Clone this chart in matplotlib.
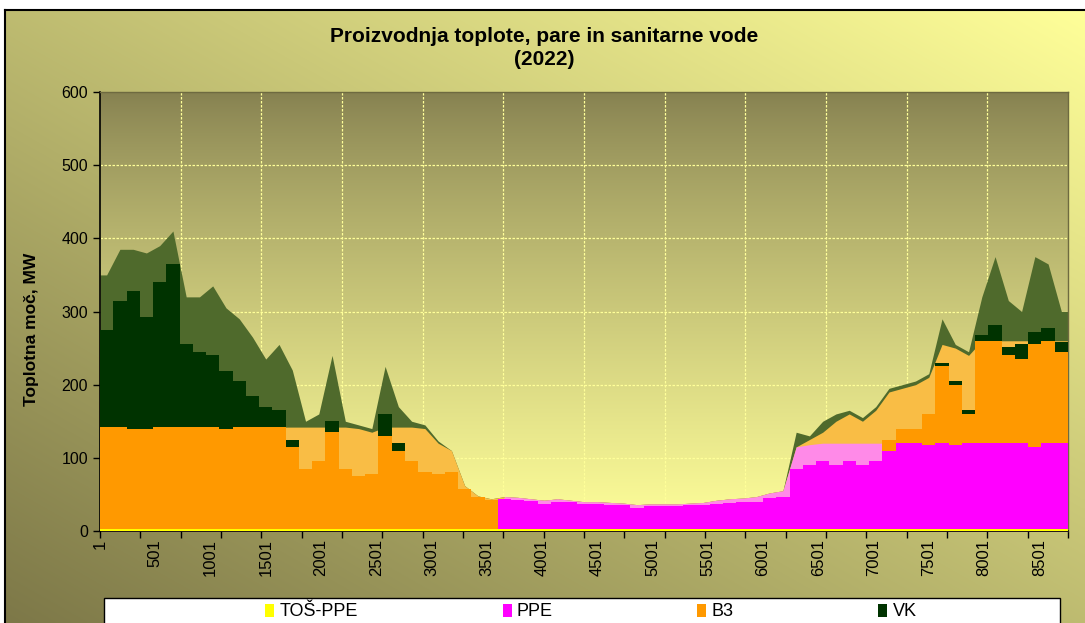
import numpy as np
import matplotlib
matplotlib.use("Agg")
import matplotlib.pyplot as plt
from matplotlib.patches import Patch, Rectangle
from matplotlib.colors import to_rgb

plt.rcParams['font.family'] = ['Liberation Sans', 'DejaVu Sans']

# ---------------- data (MW, 120-hour bins) ----------------
BIN_HOURS = 120
TOS_PPE = [3, 3, 3, 3, 3, 3, 3, 3, 3, 3, 3, 3, 3, 3, 3, 3, 3, 3, 3, 3,
           3, 3, 3, 3, 3, 3, 3, 3, 3, 3, 3, 3, 3, 3, 3, 3, 3, 3, 3, 3,
           3, 3, 3, 3, 3, 3, 3, 3, 3, 3, 3, 3, 3, 3, 3, 3, 3, 3, 3, 3,
           3, 3, 3, 3, 3, 3, 3, 3, 3, 3, 3, 3, 3]
PPE = [0, 0, 0, 0, 0, 0, 0, 0, 0, 0, 0, 0, 0, 0, 0, 0, 0, 0, 0, 0,
       0, 0, 0, 0, 0, 0, 0, 0, 0, 0,
       41, 39, 38, 34, 37, 36, 34, 34, 33, 32, 29, 31, 31, 31, 32, 32, 34, 35, 36, 37,
       42, 44, 82, 87, 92, 87, 92, 87, 92, 107, 117, 117, 115, 117, 114, 117, 117, 117, 117, 117,
       112, 117, 117]
PPE_MAX = [0, 0, 0, 0, 0, 0, 0, 0, 0, 0, 0, 0, 0, 0, 0, 0, 0, 0, 0, 0,
           0, 0, 0, 0, 0, 0, 0, 0, 0, 0,
           44, 43, 41, 39, 41, 39, 37, 37, 36, 35, 33, 34, 34, 34, 35, 36, 39, 41, 42, 44,
           49, 52, 112, 115, 117, 117, 117, 117, 117, 117, 117, 117, 117, 117, 117, 117, 117, 117, 117, 117,
           117, 117, 117]
B3 = [139, 139, 137, 137, 139, 139, 139, 139, 139, 137, 139, 139, 139, 139,
      112, 82, 92, 132, 82, 72, 75, 127, 107, 92, 77, 75, 77, 55, 43, 39,
      0, 0, 0, 0, 0, 0, 0, 0, 0, 0, 0, 0, 0, 0, 0, 0, 0, 0, 0, 0,
      0, 0, 0, 0, 0, 0, 0, 0, 0,
      15, 20, 20, 42, 105, 83, 40, 140, 140, 120, 115, 140, 140, 125]
B3_MAX = [139, 139, 139, 139, 139, 139, 139, 139, 139, 139, 139, 139, 139, 139,
          139, 139, 139, 139, 139, 137, 132, 139, 139, 139, 137, 117, 107, 59, 45, 41,
          0, 0, 0, 0, 0, 0, 0, 0, 0, 0, 0, 0, 0, 0, 0, 0, 0, 0, 0, 0, 0, 0,
          0, 7, 15, 30, 40, 30, 45,
          70, 75, 80, 90, 135, 130, 120, 140, 140, 140, 140, 140, 140, 140]
VK = [133, 173, 188, 153, 198, 223, 113, 103, 98, 78, 63, 43, 28, 23,
      10, 0, 0, 15, 0, 0, 0, 30, 10, 0, 0, 0, 0, 0, 0, 0,
      0, 0, 0, 0, 0, 0, 0, 0, 0, 0, 0, 0, 0, 0, 0, 0, 0, 0, 0, 0,
      0, 0, 0, 0, 0, 0, 0, 0, 0, 0, 0, 0, 0,
      5, 5, 5, 8, 22, 12, 20, 17, 18, 13]
VK_MAX = [208, 243, 243, 238, 248, 268, 178, 178, 193, 163, 148, 123, 93, 113,
          78, 8, 18, 98, 8, 5, 5, 83, 28, 8, 5, 3, 0, 0, 0, 0,
          0, 0, 0, 0, 0, 0, 0, 0, 0, 0, 0, 0, 0, 0, 0, 0, 0, 0, 0, 0, 0, 0,
          20, 5, 15, 10, 5, 5, 5, 5, 5, 5, 5,
          35, 5, 5, 60, 115, 55, 40, 115, 105, 40]
SERIES = ["TOŠ-PPE", "PPE", "B3", "VK"]
X_LABELS = ["1", "501", "1001", "1501", "2001", "2501", "3001", "3501", "4001",
            "4501", "5001", "5501", "6001", "6501", "7001", "7501", "8001", "8501"]
TITLE = "Proizvodnja toplote, pare in sanitarne vode\n(2022)"
YLABEL = "Toplotna moč, MW"

COLORS = {"TOŠ-PPE": "#ffff00", "PPE": "#ff00ff", "B3": "#ff9900", "VK": "#003300"}
LIGHT = {"PPE": "#ff8ae8", "B3": "#f9bd45", "VK": "#4f6a2c"}

# ---------------- figure ----------------
W, H = 1085, 623
fig = plt.figure(figsize=(W / 100, H / 100), dpi=100)
fig.patch.set_facecolor("white")

# outer gradient background
bg = fig.add_axes([5 / W, 0, 1 - 5 / W, (H - 10) / H], zorder=-10)
nx, ny = 300, 200
u = np.linspace(0, 1, nx)[None, :]
v = np.linspace(0, 1, ny)[:, None]
t = np.clip((u + (1 - v)) / 2, 0, 1)[..., None]
c0 = np.array(to_rgb("#7d7848"))
c1 = np.array(to_rgb("#ffff99"))
bg.imshow(c0 + (c1 - c0) * t, aspect="auto", extent=[0, 1, 0, 1], interpolation="bilinear")
bg.set_xticks([]); bg.set_yticks([])
for s in ["right", "bottom"]:
    bg.spines[s].set_visible(False)
for s in ["left", "top"]:
    bg.spines[s].set_linewidth(1.5)
    bg.spines[s].set_color("black")

# plot axes
ax = fig.add_axes([100 / W, 1 - 531 / H, 968 / W, (531 - 92) / H])
n_bins = len(PPE)
total_hours = n_bins * BIN_HOURS
gy = np.linspace(0, 1, 300)[:, None, None] ** 0.8
ct = np.array(to_rgb("#858050"))
cb = np.array(to_rgb("#ffff9a"))
ax.imshow(np.repeat(ct + (cb - ct) * gy, 2, axis=1), extent=[0, total_hours, 0, 600],
          aspect="auto", zorder=0, interpolation="bilinear")

# grid lines
for yv in range(100, 600, 100):
    ax.axhline(yv, color="#ffff99", lw=0.9, ls=(0, (2, 1.2)), zorder=0.6)
for xv in range(730, total_hours, 730):
    ax.axvline(xv, color="#ffff99", lw=0.9, ls=(0, (2, 1.2)), zorder=0.6)

edges = np.arange(0, total_hours + 1, BIN_HOURS)
centers = (edges[:-1] + edges[1:]) / 2
xc = np.concatenate([[0], centers, [total_hours]])

def ext(a):
    return np.concatenate([[a[0]], a, [a[-1]]])

tos = np.array(TOS_PPE, float)
ppe = np.array(PPE, float)
ppe_mx = np.array(PPE_MAX, float)
b3 = np.array(B3, float)
b3_mx = np.array(B3_MAX, float)
vk = np.array(VK, float)
vk_mx = np.array(VK_MAX, float)

# spike envelopes (lighter, drawn behind the solid stack)
L2 = tos + ppe_mx
L3 = L2 + b3_mx
L4 = L3 + vk_mx
ax.fill_between(xc, 0, ext(L4), color=LIGHT["VK"], lw=0, zorder=2)
ax.fill_between(xc, 0, ext(L3), color=LIGHT["B3"], lw=0, zorder=2.1)
ax.fill_between(xc, 0, ext(L2), color=LIGHT["PPE"], lw=0, zorder=2.2)

# solid stacked layers
S1 = tos
S2 = S1 + ppe
S3 = S2 + b3
S4 = S3 + vk
ax.stairs(S4, edges, baseline=S3, fill=True, color=COLORS["VK"], zorder=3, lw=0)
ax.stairs(S3, edges, baseline=S2, fill=True, color=COLORS["B3"], zorder=3, lw=0)
ax.stairs(S2, edges, baseline=S1, fill=True, color=COLORS["PPE"], zorder=3, lw=0)
ax.stairs(S1, edges, baseline=0, fill=True, color=COLORS["TOŠ-PPE"], zorder=3, lw=0)

ax.set_xlim(0, total_hours)
ax.set_ylim(0, 600)
ax.set_yticks(range(0, 601, 100))
ax.tick_params(axis="y", labelsize=11.5, length=5, direction="out", width=1)
label_pos = [int(s) - 0.5 for s in X_LABELS]
ax.set_xticks(label_pos)
ax.set_xticklabels(X_LABELS, rotation=90, fontsize=12)
ax.tick_params(axis="x", which="major", length=0, pad=6)
ax.set_xticks(np.arange(0, total_hours + 1, 365), minor=True)
ax.tick_params(axis="x", which="minor", length=5, direction="out", width=1)
for s in ["left", "bottom"]:
    ax.spines[s].set_color("black")
    ax.spines[s].set_linewidth(1.2)
for s in ["top", "right"]:
    ax.spines[s].set_color("#6e6a40")
    ax.spines[s].set_linewidth(1.0)

# titles
fig.text(544 / W, 1 - 48 / H, TITLE, ha="center", va="center", fontsize=15,
         fontweight="bold", linespacing=1.3)
fig.text(32 / W, 1 - 329 / H, YLABEL, ha="center", va="center", rotation=90,
         fontsize=12.5, fontweight="bold")

# legend
fig.patches.append(Rectangle((104 / W, -0.02), (1060 - 104) / W, (0.02 + 1 - 598 / H),
                             transform=fig.transFigure, facecolor="white",
                             edgecolor="black", lw=1.0, zorder=5))
handles = [Patch(facecolor=COLORS[s], edgecolor="none") for s in SERIES]
leg = fig.legend(handles, SERIES, loc="center", bbox_to_anchor=(591 / W, 1 - 612 / H),
                 ncol=4, frameon=False, fontsize=13, handlelength=0.5, handleheight=0.75,
                 handletextpad=0.3, columnspacing=8.0)
leg.set_zorder(6)

fig.savefig("out.png", dpi=100)
